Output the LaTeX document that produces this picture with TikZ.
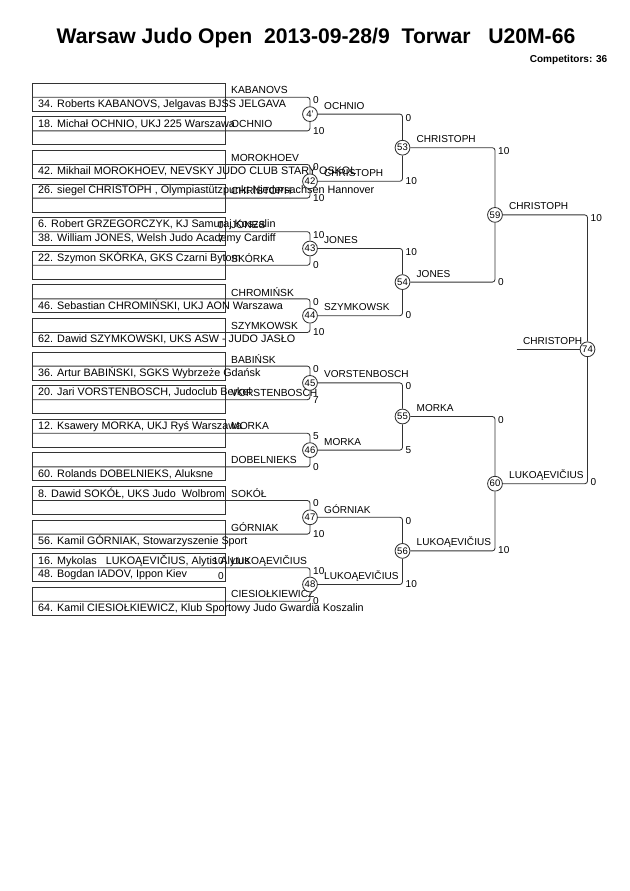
\documentclass[tikz,border=0pt]{standalone}
\usepackage{fontspec}
\setmainfont{Liberation Sans}
\usetikzlibrary{positioning}

\begin{document}
\begin{tikzpicture}[x=0.945pt, y=-0.945pt,
    wire/.style={draw=black!80, line width=0.8pt, rounded corners=2.5pt},
    bout/.style={circle, draw=black!80, line width=0.8pt, fill=white, minimum size=14pt, inner sep=0pt, font=\fontsize{9}{10}\selectfont},
    entry/.style={anchor=west, inner sep=0pt, font=\fontsize{10.2}{12}\selectfont},
    short/.style={anchor=west, inner sep=0pt, font=\fontsize{9.7}{11}\selectfont},
    winner/.style={anchor=west, inner sep=0pt, font=\fontsize{9.5}{11}\selectfont},
    score/.style={anchor=west, inner sep=0pt, font=\fontsize{9.5}{11}\selectfont}]

  \useasboundingbox (0,0) rectangle (630,891);

  \node[font=\bfseries\fontsize{20}{24}\selectfont] (title) at (316,38) {Warsaw Judo Open\ \ 2013-09-28/9\ \ Torwar\ \ \ U20M-66};
  \node[anchor=east, font=\bfseries\fontsize{9.5}{11}\selectfont] (comp) at (611,60) {Competitors: 36};

  % entry boxes
  \foreach \k in {0,...,15} {
    \draw[black!80, line width=0.8pt] (32,83.3+33.6*\k) rectangle (225,111.3+33.6*\k);
    \coordinate (e\k) at (32,97.3+33.6*\k);
  }

  % competitors
  \foreach \k/\r/\t [count=\i] in {
      0/21/{34. Roberts KABANOVS, Jelgavas BJSS JELGAVA},
      1/7/{18. Michał OCHNIO, UKJ 225 Warszawa},
      2/21/{42. Mikhail MOROKHOEV, NEVSKY JUDO CLUB STARY OSKOL},
      3/7/{26. siegel CHRISTOPH , Olympiastützpunkt Niedersachsen Hannover},
      4/7/{6. Robert GRZEGORCZYK, KJ Samuraj Koszalin},
      4/21/{38. William JONES, Welsh Judo Academy Cardiff},
      5/7/{22. Szymon SKÓRKA, GKS Czarni Bytom},
      6/21/{46. Sebastian CHROMIŃSKI, UKJ AON Warszawa},
      7/21/{62. Dawid SZYMKOWSKI, UKS ASW - JUDO JASŁO},
      8/21/{36. Artur BABIŃSKI, SGKS Wybrzeże Gdańsk},
      9/7/{20. Jari VORSTENBOSCH, Judoclub Berkel},
      10/7/{12. Ksawery MORKA, UKJ Ryś Warszawa},
      11/21/{60. Rolands DOBELNIEKS, Aluksne},
      12/7/{8. Dawid SOKÓŁ, UKS Judo\ \ Wolbrom},
      13/21/{56. Kamil GÓRNIAK, Stowarzyszenie Sport},
      14/7/{16. Mykolas\ \ \ LUKOĄEVIČIUS, Alytis Alytus},
      14/21/{48. Bogdan IADOV, Ippon Kiev},
      15/21/{64. Kamil CIESIOŁKIEWICZ, Klub Sportowy Judo Gwardia Koszalin}}
    \node[entry] (n\i) at (38,83.3+33.6*\k+\r) {\t};

  \foreach \t [count=\k from 0] in {KABANOVS, OCHNIO, MOROKHOEV, CHRISTOPH, JONES, SKÓRKA, CHROMIŃSK, SZYMKOWSK,
      BABIŃSK, VORSTENBOSCH, MORKA, DOBELNIEKS, SOKÓŁ, GÓRNIAK, LUKOĄEVIČIUS, CIESIOŁKIEWICZ}
    \node[short] (s\k) at (231,90.3+33.6*\k) {\t};

  % pool scores
  \node[score, anchor=east] (p1) at (224,224.7) {0};
  \node[score, anchor=east] (p2) at (224,239.2) {7};
  \node[score, anchor=east] (p3) at (224,560.7) {10};
  \node[score, anchor=east] (p4) at (224,576.2) {0};

  % first round
  \foreach \m/\t/\a/\b/\sa/\sb/\w [count=\i from 0] in {
      41/4'/0/1/0/10/OCHNIO, 42/42/2/3/0/10/CHRISTOPH, 43/43/4/5/10/0/JONES, 44/44/6/7/0/10/SZYMKOWSK,
      45/45/8/9/0/7/VORSTENBOSCH, 46/46/10/11/5/0/MORKA, 47/47/12/13/0/10/GÓRNIAK, 48/48/14/15/10/0/LUKOĄEVIČIUS} {
    \node[bout] (m\m) at (310,114.1+67.2*\i) {\t};
    \draw[wire] (e\a) -| (m\m);
    \draw[wire] (e\b) -| (m\m);
    \node[score] (t\m) at (313,100.3+67.2*\i) {\sa};
    \node[score] (u\m) at (313,130.9+67.2*\i) {\sb};
    \node[winner] (w\m) at (324,105.6+67.2*\i) {\w};
  }

  % second round
  \foreach \m/\a/\b/\sa/\sb/\w [count=\i from 0] in {
      53/41/42/0/10/CHRISTOPH, 54/43/44/10/0/JONES, 55/45/46/0/5/MORKA, 56/47/48/0/10/LUKOĄEVIČIUS} {
    \node[bout] (m\m) at (402.5,147.7+134.4*\i) {\m};
    \draw[wire] (m\a) -| (m\m);
    \draw[wire] (m\b) -| (m\m);
    \node[score] (t\m) at (405.5,117.6+134.4*\i) {\sa};
    \node[score] (u\m) at (405.5,180.8+134.4*\i) {\sb};
    \node[winner] (w\m) at (416.5,139.2+134.4*\i) {\w};
  }

  % semi finals
  \node[bout] (m59) at (495,214.9) {59};
  \node[bout] (m60) at (495,483.7) {60};
  \draw[wire] (m53) -| (m59);
  \draw[wire] (m54) -| (m59);
  \draw[wire] (m55) -| (m60);
  \draw[wire] (m56) -| (m60);
  \node[score] (t59) at (498,151.2) {10};
  \node[score] (u59) at (498,281.6) {0};
  \node[score] (t60) at (498,420) {0};
  \node[score] (u60) at (498,550.4) {10};
  \node[winner] (w59) at (509,206.4) {CHRISTOPH};
  \node[winner] (w60) at (509,475.2) {LUKOĄEVIČIUS};

  % final
  \node[bout] (m74) at (587.5,349.3) {74};
  \draw[wire] (m59) -| (m74);
  \draw[wire] (m60) -| (m74);
  \coordinate (lead) at (516.7,349.3);
  \draw[wire] (lead) -- (m74);
  \node[score] (t74) at (590.5,218.4) {10};
  \node[score] (u74) at (590.5,482.2) {0};
  \node[winner] (w74) at (523,340.8) {CHRISTOPH};
\end{tikzpicture}
\end{document}
